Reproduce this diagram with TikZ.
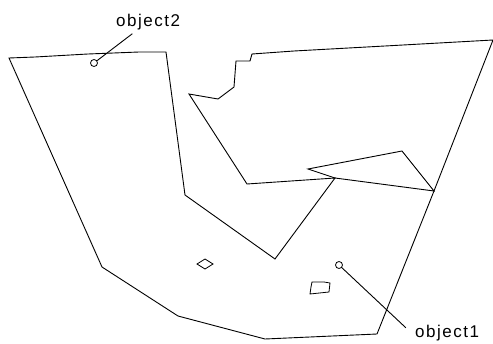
\documentclass[tikz,border=0pt]{standalone}
\usepackage{fontspec}
\setmainfont{Liberation Sans}
\usepackage{tikz}
\usetikzlibrary{positioning,calc}

\begin{document}
\begin{tikzpicture}[
  x=1pt,y=-1pt,
  every node/.style={font=\fontsize{17}{20}\selectfont\addfontfeatures{LetterSpace=9}},
  edge/.style={draw=black,line width=0.9pt,line join=miter},
  hole/.style={draw=black,line width=0.8pt},
  marker/.style={draw=black,circle,line width=0.8pt,inner sep=0pt,minimum size=7pt},
  tag/.style={inner sep=4pt,anchor=base west},
  lead/.style={draw=black,line width=0.9pt},
]
\useasboundingbox (0,0) rectangle (493,343);

%% ── outline of the map ───────────────────────────────────────────────
\draw[edge] (166,52) -- (139,52) -- (88,54) -- (35,57) -- (9,58)
  -- (102,267) -- (178,316) -- (265,339) -- (377,334) -- (434,191)
  -- (493,40) -- (403,45) -- (294,51) -- (252,54) -- (250,61)
  -- (236,61) -- (234,87) -- (218,99) -- (189,94) -- (247,184)
  -- (335,178) -- (275,259) -- (185,195) -- cycle;

%% ── wedge on the right ───────────────────────────────────────────────
\draw[edge] (335,178) -- (308,169) -- (402,151) -- (434,191) -- cycle;

%% ── small holes ──────────────────────────────────────────────────────
\draw[hole] (197,264) -- (205,259) -- (213,264) -- (205,269) -- cycle;
\draw[hole] (312,282) -- (324,282) -- (330,283) -- (329,292)
  -- (310,294) -- (311,287) -- cycle;

%% ── labels ───────────────────────────────────────────────────────────
\node[marker] (obj2) at (94,63) {};
\node[tag] (obj2lab) at (112,26) {object2};
\draw[lead] (obj2) -- (obj2lab);

\node[marker] (obj1) at (339,265) {};
\node[tag] (obj1lab) at (411,337) {object1};
\draw[lead,shorten >=7pt] (obj1) -- (obj1lab.west);

\end{tikzpicture}
\end{document}
